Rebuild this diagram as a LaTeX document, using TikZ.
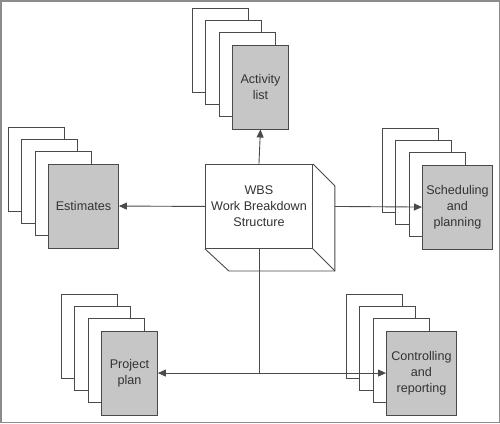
\documentclass[tikz,border=0pt]{standalone}
\usepackage{fontspec}
\setmainfont{Liberation Sans}
\usepackage{tikz}
\usetikzlibrary{arrows.meta}
\definecolor{linegray}{HTML}{4A4A4A}
\definecolor{docgray}{HTML}{C6C6C6}
\definecolor{textgray}{HTML}{333333}
\definecolor{framegray}{HTML}{8C8C8C}

\begin{document}
\begin{tikzpicture}[x=1pt,y=-1pt,
  line/.style={draw=linegray,line width=0.9pt},
  sheet/.style={line,fill=white,minimum width=56pt,minimum height=84pt,anchor=north west,inner sep=0pt},
  doc/.style={sheet,fill=docgray,text=textgray,align=center,font=\fontsize{12.6}{16}\selectfont},
  arr/.style={line,-{Triangle[length=8pt,width=7pt]}}]
  \useasboundingbox (0,0) rectangle (500,423);
  \draw[framegray,line width=1.5pt] (0.75,0.75) rectangle (499.25,422.25);
  \foreach \n/\x/\y/\w/\t in {act/192/8/56/{Activity\\list}, est/8/127/70/{Estimates},
      sch/382/128/70/{Scheduling\\and\\planning}, plan/61/294/56/{Project\\plan},
      ctl/346/294/70/{Controlling\\and\\reporting}}{
    \foreach \i in {0,1,2}
      \node[sheet] (\n\i) at (\x+13.3*\i,\y+12.2*\i) {};
    \node[doc,minimum width=\w pt] (\n) at (\x+40,\y+36.6) {\t};
  }
  \node[line,fill=white,minimum width=107pt,minimum height=84pt,anchor=north west,inner sep=0pt,
    align=center,text=textgray,font=\fontsize{12.6}{16}\selectfont] (wbs) at (205,164) {WBS\\Work Breakdown\\Structure};
  \draw[line] (wbs.north east) -- ++(22,22) -- ++(0,85) coordinate (wbsc) -- ++(-106,0) -- (wbs.south west);
  \draw[line] (wbs.south east) -- (wbsc);
  \coordinate (jn) at (wbs.south |- plan.east);
  \draw[arr] (wbs.north) -- (act.south);
  \draw[arr] (wbs.west) -- (est.east);
  \draw[arr] ([xshift=22pt]wbs.east) -- (sch.west);
  \draw[line] (wbs.south) -- (jn);
  \draw[arr] (jn) -- (plan.east);
  \draw[arr] (jn) -- (ctl.west);
\end{tikzpicture}
\end{document}
